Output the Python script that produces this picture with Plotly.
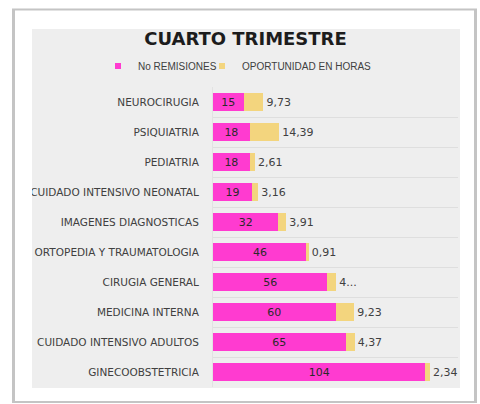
import plotly.graph_objects as go

# ---- data ----
categorias = ["NEUROCIRUGIA", "PSIQUIATRIA", "PEDIATRIA", "CUIDADO INTENSIVO NEONATAL",
              "IMAGENES DIAGNOSTICAS", "ORTOPEDIA Y TRAUMATOLOGIA", "CIRUGIA GENERAL",
              "MEDICINA INTERNA", "CUIDADO INTENSIVO ADULTOS", "GINECOOBSTETRICIA"]
no_remisiones = [15, 18, 18, 19, 32, 46, 56, 60, 65, 104]
oportunidad_horas = [9.73, 14.39, 2.61, 3.16, 3.91, 0.91, 4.4, 9.23, 4.37, 2.34]
etiquetas_truncadas = {"CIRUGIA GENERAL": "4..."}

W, H = 480, 404
L, R, T, B = 213, 458, 87, 387

def px(x):
    return (x - L) / (R - L)

def py(y):
    return (B - y) / (B - T)

PINK = "#FF3BD0"
YELLOW = "#F3D57E"
GRAY_BG = "#EEEEEE"

labels_op = [etiquetas_truncadas.get(c, f"{v:.2f}".replace(".", ","))
             for c, v in zip(categorias, oportunidad_horas)]

fig = go.Figure()
fig.add_trace(go.Bar(
    y=categorias, x=no_remisiones, orientation="h", name="No REMISIONES",
    marker=dict(color=PINK, line=dict(width=0)),
    text=[str(v) for v in no_remisiones], textposition="inside",
    insidetextanchor="middle", constraintext="none",
    textfont=dict(family="DejaVu Sans", size=11, color="#2a2a2a"),
    showlegend=False, hoverinfo="skip"))
fig.add_trace(go.Bar(
    y=categorias, x=oportunidad_horas, orientation="h", name="OPORTUNIDAD EN HORAS",
    marker=dict(color=YELLOW, line=dict(width=0)),
    text=labels_op, textposition="outside", cliponaxis=False, constraintext="none",
    textfont=dict(family="DejaVu Sans", size=11, color="#404040"),
    showlegend=False, hoverinfo="skip"))
# legend entries with small square swatches
for nm, col, lg in [("No REMISIONES", PINK, "legend"), ("OPORTUNIDAD EN HORAS", YELLOW, "legend2")]:
    fig.add_trace(go.Scatter(x=[None], y=[None], mode="markers", name=nm,
                             marker=dict(symbol="square", size=6, color=col),
                             showlegend=True, legend=lg))

shapes = [
    # card shadow
    dict(type="rect", xref="paper", yref="paper", layer="below",
         x0=px(12), x1=px(477), y0=py(8.5), y1=py(403),
         fillcolor="#c4c4c4", line=dict(width=0)),
    dict(type="rect", xref="paper", yref="paper", layer="below",
         x0=px(15), x1=px(474), y0=py(10.5), y1=py(401),
         fillcolor="white", line=dict(width=0)),
    # chart area
    dict(type="rect", xref="paper", yref="paper", layer="below",
         x0=px(32), x1=px(460), y0=py(29), y1=py(388),
         fillcolor=GRAY_BG, line=dict(width=0)),
    # clip long category labels at chart area edge
    dict(type="rect", xref="paper", yref="paper", layer="above",
         x0=px(15), x1=px(32), y0=py(29), y1=py(388),
         fillcolor="white", line=dict(width=0)),
]

legend_common = dict(orientation="h", xref="paper", yref="paper",
                     xanchor="left", yanchor="middle", traceorder="normal",
                     font=dict(family="Liberation Sans", size=10, color="#404040"),
                     bgcolor="rgba(0,0,0,0)", itemwidth=30)

fig.update_layout(
    width=W, height=H,
    margin=dict(l=L, r=W - R, t=T, b=H - B, pad=0, autoexpand=False),
    paper_bgcolor="white", plot_bgcolor=GRAY_BG,
    barmode="stack", bargap=0.42,
    title=dict(text="<b>CUARTO TRIMESTRE</b>", xref="container", yref="container",
               x=245.5 / W, y=1 - 39 / H, xanchor="center", yanchor="middle",
               font=dict(family="DejaVu Sans", size=18, color="#1c1c1c")),
    legend=dict(x=px(98), y=py(66), **legend_common),
    legend2=dict(x=px(202), y=py(66), **legend_common),
    xaxis=dict(range=[0, 120], showticklabels=False, showgrid=False,
               zeroline=False, showline=False, fixedrange=True),
    yaxis=dict(categoryorder="array", categoryarray=categorias, autorange="reversed",
               tickson="boundaries", showgrid=True, gridcolor="#dedede", gridwidth=1,
               ticks="", ticklabelstandoff=11, fixedrange=True,
               showline=True, linecolor="#e2e2e2", linewidth=1,
               tickfont=dict(family="DejaVu Sans", size=10.5, color="#404040")),
    shapes=shapes,
    showlegend=True,
)

fig.write_html("out.html", config={"displayModeBar": False},
               post_script="document.body.style.margin='0';document.body.style.overflow='hidden';")
